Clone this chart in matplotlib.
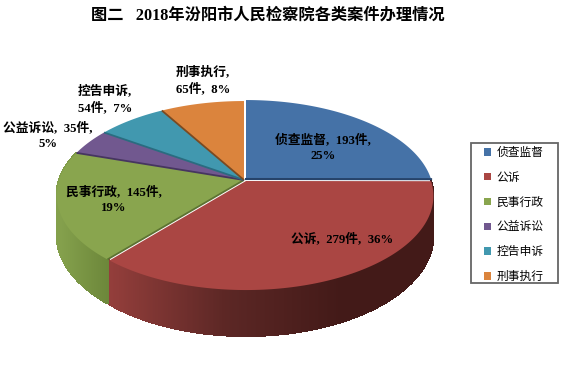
# -*- coding:utf-8 -*-
import matplotlib
matplotlib.use('Agg')
import matplotlib.pyplot as plt
import numpy as np
from matplotlib.collections import PolyCollection
from matplotlib.colors import LinearSegmentedColormap
from matplotlib.patches import Polygon, Rectangle

title = '图二   2018年汾阳市人民检察院各类案件办理情况'
categories = ['侦查监督', '公诉', '民事行政', '公益诉讼', '控告申诉', '刑事执行']
counts = [193, 279, 145, 35, 54, 65]
labels = ['侦查监督,193件,\n25%', '公诉,279件,36%', '民事行政,145件,\n19%',
          '公益诉讼,35件,\n5%', '控告申诉,\n54件,7%', '刑事执行,\n65件,8%']
label_xy = [(323, 148), (342, 239), (114, 200), (48, 136), (105, 99), (203, 80)]
colors = ['#4572a7', '#aa4643', '#89a54e', '#71588f', '#4198af', '#db843d']
edge_colors = ['#26436a', '#6e2c2a', '#5c7232', '#463560', '#2a6c80', '#7a4a22']
offsets = [(1, -1), (1, 1), (-1, 0), (-1, 0), (-1, 0), (-1, 0)]

CX, CY = 245, 180
RX, RY, K, DEPTH = 185, 91.6, 0.16, 38.6

plt.rcParams['font.family'] = ['Liberation Serif', 'Noto Sans CJK SC']


def project(t, r=1.0, z=0.0):
    # t 从正上方顺时针计, 透视投影到屏幕像素
    u, v = r * np.sin(t), -r * np.cos(t)
    w = 1 - K * v
    return CX + RX * u / w, CY + (RY * v + z) / w


def draw_wall(ax, t0, t1, off, x0, x1, stops):
    cmap = LinearSegmentedColormap.from_list('wall', stops)
    ts = np.linspace(t0, t1, 400)
    xt, yt = project(ts)
    xb, yb = project(ts, z=DEPTH)
    xt, xb = xt + off[0], xb + off[0]
    yt, yb = yt + off[1], yb + off[1]
    quads = [[(xt[i], yt[i]), (xt[i + 1], yt[i + 1]), (xb[i + 1], yb[i + 1]), (xb[i], yb[i])]
             for i in range(len(ts) - 1)]
    shade = np.clip((xt[:-1] - x0) / (x1 - x0), 0, 1)
    ax.add_collection(PolyCollection(quads, facecolors=cmap(shade), edgecolors=cmap(shade), linewidths=0.8,
                                     antialiaseds=False, zorder=2))


fig = plt.figure(figsize=(5.64, 3.69), dpi=100)
ax = fig.add_axes([0, 0, 1, 1])
ax.set_xlim(0, 564)
ax.set_ylim(369, 0)
ax.axis('off')

fig.text(268 / 564, 1 - 16 / 369, title, ha='center', va='center', fontsize=11.7, fontweight='bold')

angles = np.concatenate([[0], np.cumsum(counts)]) / np.sum(counts) * 2 * np.pi

# 侧面
draw_wall(ax, angles[1], angles[2], offsets[1], 110, 340, ['#933e3b', '#5c2725', '#431a18'])
draw_wall(ax, angles[2], angles[3], offsets[2], 60, 108, ['#84a04c', '#6c873a'])

# 顶面
for i, c in enumerate(colors):
    ts = np.linspace(angles[i], angles[i + 1], 120)
    x, y = project(ts)
    pts = np.vstack([[CX, CY], np.column_stack([x, y])]) + offsets[i]
    ax.add_patch(Polygon(pts, closed=True, facecolor=c, edgecolor='none', zorder=3))
    # 扇区起始边的暗色切面
    if i >= 2:
        xe, ye = project(angles[i])
        ax.plot([CX + offsets[i][0], xe + offsets[i][0]], [CY + offsets[i][1], ye + offsets[i][1]],
                color=edge_colors[i], lw=1.3, zorder=4, solid_capstyle='butt')

xe, ye = project(angles[1])
ax.plot([CX + offsets[0][0], xe + offsets[0][0]], [CY + offsets[0][1], ye + offsets[0][1]],
        color=edge_colors[0], lw=1.5, zorder=4)

for s, (x, y) in zip(labels, label_xy):
    s = s.replace(',', ',  ').replace(',  \n', ',\n')
    ax.text(x, y, s, ha='center', va='center', fontsize=9.2, fontweight='bold', linespacing=1.45, zorder=6)

# 图例: 外框单独画, 内容不带边框
ax.add_patch(Rectangle((470.5, 142.5), 87, 140.5, facecolor='white', edgecolor='#666666', lw=1.3, zorder=5))
handles = [Rectangle((0, 0), 1, 1, facecolor=c, edgecolor='none') for c in colors]
leg = ax.legend(handles, categories, loc='upper left', bbox_to_anchor=(484 / 564, 1 - 146 / 369),
                bbox_transform=fig.transFigure, borderaxespad=0, borderpad=0, fontsize=8.5, frameon=False,
                handlelength=0.6, handleheight=0.6, handletextpad=0.45, labelspacing=1.0)
leg.set_zorder(6)
for t in leg.get_texts():
    t.set_family(['Noto Sans CJK SC', 'DejaVu Sans'])

fig.savefig('out.png', dpi=100)
